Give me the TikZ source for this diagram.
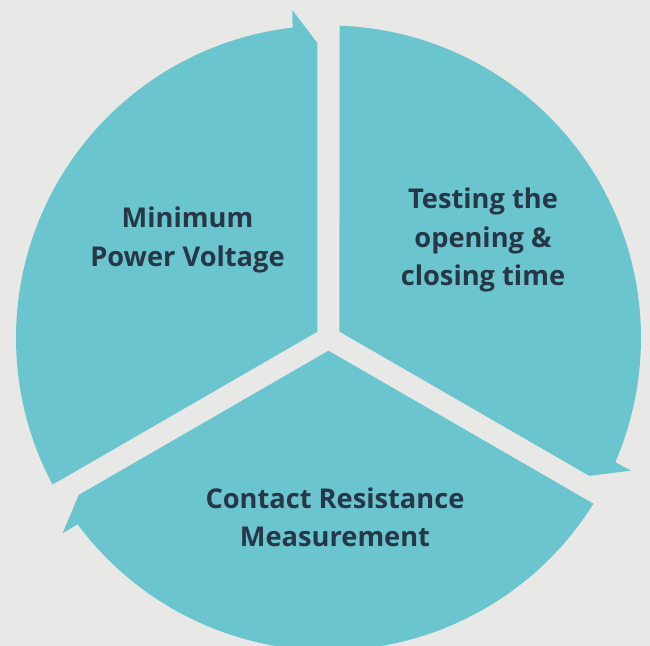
\documentclass[tikz,border=0pt]{standalone}
\usepackage{fontspec}
\setmainfont{Open Sans}
\definecolor{paper}{HTML}{E8E8E6}
\definecolor{wheel}{HTML}{6BC5CF}
\definecolor{ink}{HTML}{263747}

\begin{document}
\begin{tikzpicture}[x=0.02cm,y=0.02cm,every node/.style={inner sep=0pt},
    sector/.style={fill=wheel},
    caption/.style={text=ink,align=center,font=\bfseries\fontsize{15.5}{21.8}\selectfont}]
    \fill[paper](-328.5,-308)rectangle(321.5,338);
    \useasboundingbox(-328.5,-308)rectangle(321.5,338);
    \foreach \e in {90,-30,210}
      \fill[sector](\e+60:12.7)--(\e+117.98:312.5)
        arc[start angle=\e+117.98,end angle=\e+6.6,radius=312.5]
        --(\e+6.3:330)--(\e+2.14:295)--cycle;
    \node[caption](power)at(-141,98){Minimum\\Power Voltage};
    \node[caption](timing)at(154.5,98){Testing the\\opening \&\\closing time};
    \node[caption](contact)at(6.5,-179){Contact Resistance\\Measurement};
  \end{tikzpicture}
\end{document}
